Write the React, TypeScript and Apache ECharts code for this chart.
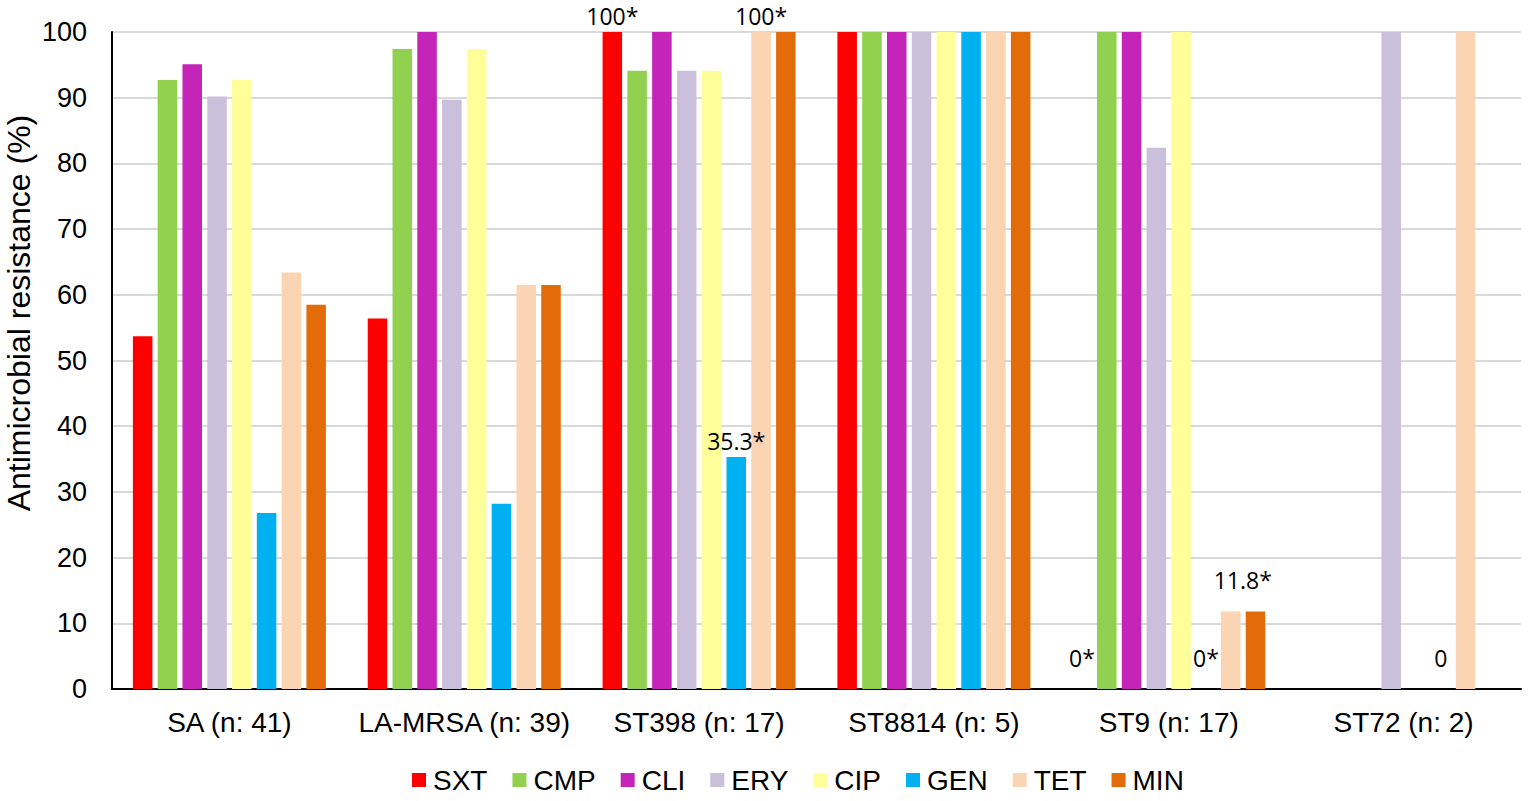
import React, { useEffect, useRef } from 'react'
import * as echarts from 'echarts'

// 分组（菌株）
const categories = ['SA (n: 41)', 'LA-MRSA (n: 39)', 'ST398 (n: 17)', 'ST8814 (n: 5)', 'ST9 (n: 17)', 'ST72 (n: 2)']

// 各抗生素耐药率 (%)
const sxt = [53.7, 56.4, 100, 100, 0, 0]
const cmp = [92.7, 97.4, 94.1, 100, 100, 0]
const cli = [95.1, 100, 100, 100, 100, 0]
const ery = [90.2, 89.7, 94.1, 100, 82.4, 100]
const cip = [92.7, 97.4, 94.1, 100, 100, 0]
const gen = [26.8, 28.2, 35.3, 100, 0, 0]
const tet = [63.4, 61.5, 100, 100, 11.8, 100]
const min = [58.5, 61.5, 100, 100, 11.8, 0]

// 柱顶标注
const sxtLabels = ['', '', '100*', '', '0*', '']
const genLabels = ['', '', '35.3*', '', '0*', '0']
const tetLabels = ['', '', '100*', '', '11.8*', '']

const yTicks = [0, 10, 20, 30, 40, 50, 60, 70, 80, 90, 100]

const seriesDefs = [
  { name: 'SXT', data: sxt, color: '#ff0000', labels: sxtLabels },
  { name: 'CMP', data: cmp, color: '#92d050' },
  { name: 'CLI', data: cli, color: '#c424b8' },
  { name: 'ERY', data: ery, color: '#cbc0db' },
  { name: 'CIP', data: cip, color: '#ffff99' },
  { name: 'GEN', data: gen, color: '#00b0f0', labels: genLabels },
  { name: 'TET', data: tet, color: '#fad4b3', labels: tetLabels },
  { name: 'MIN', data: min, color: '#e36c0a' },
]

const FONT = 'Liberation Sans, Arial, sans-serif'

const App: React.FC = () => {
  const chartRef = useRef<HTMLDivElement>(null)

  useEffect(() => {
    document.body.style.margin = '0'
    if (!chartRef.current) return
    const chart = echarts.init(chartRef.current, undefined, { renderer: 'svg' })

    const series = seriesDefs.map(s => ({
      name: s.name,
      type: 'bar' as const,
      barGap: '27%',
      barCategoryGap: '17.8%',
      itemStyle: { color: s.color },
      data: s.data.map((v, i) => {
        const text = s.labels ? s.labels[i] : ''
        if (!text) return v
        // 低值标注在图中稍微抬高
        const lift = v < 20 ? -15 : 0
        return {
          value: v,
          label: {
            show: true,
            position: 'top',
            distance: 5,
            offset: [text === '11.8*' ? 12 : 0, lift],
            formatter: text,
            color: '#000',
            fontSize: 23,
            fontFamily: 'Open Sans, Noto Sans, sans-serif',
          },
        }
      }),
    }))

    chart.setOption({
      animation: false,
      backgroundColor: '#ffffff',
      textStyle: { fontFamily: FONT },
      grid: { left: 112, right: 14, top: 32, bottom: 112 },
      graphic: [
        {
          type: 'text',
          x: 19,
          y: 313,
          rotation: Math.PI / 2,
          style: {
            text: 'Antimicrobial resistance (%)',
            fill: '#000',
            font: `32px ${FONT}`,
            align: 'center',
            verticalAlign: 'middle',
          },
        },
      ],
      legend: {
        data: seriesDefs.map(s => s.name),
        top: 766,
        left: 412,
        padding: 0,
        itemWidth: 14,
        itemHeight: 14,
        itemGap: 25,
        icon: 'rect',
        textStyle: {
          fontSize: 28,
          color: '#000',
          fontFamily: FONT,
          padding: [0, 0, 0, 2],
        },
      },
      xAxis: {
        type: 'category',
        data: categories,
        axisLine: { lineStyle: { color: '#000', width: 2 } },
        axisTick: { show: false },
        axisLabel: { color: '#000', fontSize: 28, margin: 19, interval: 0 },
      },
      yAxis: {
        type: 'value',
        min: yTicks[0],
        max: yTicks[yTicks.length - 1],
        interval: 10,
        axisLine: { show: true, lineStyle: { color: '#000', width: 2 } },
        axisTick: { show: false },
        axisLabel: { color: '#000', fontSize: 27, margin: 25 },
        splitLine: { lineStyle: { color: '#d9d9d9', width: 2 } },
      },
      series,
    })

    return () => {
      chart.dispose()
    }
  }, [])

  return <div ref={chartRef} style={{ width: '1535px', height: '801px' }} />
}

export default App
